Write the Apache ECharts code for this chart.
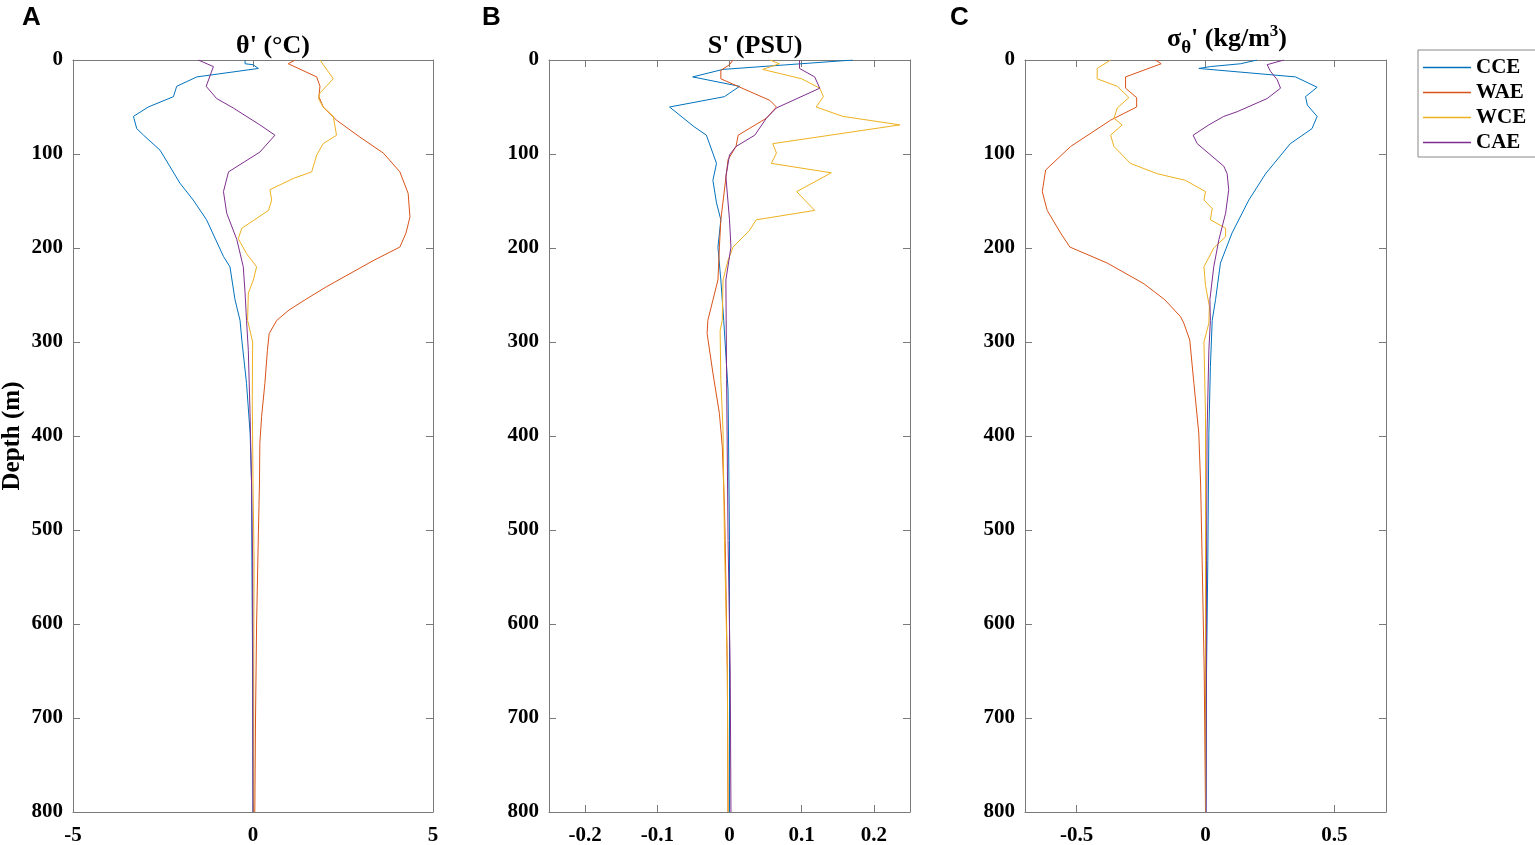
<!DOCTYPE html>
<html>
<head>
<meta charset="utf-8">
<script src="https://cdn.jsdelivr.net/npm/echarts@6/dist/echarts.min.js"></script>
<style>
html,body{margin:0;padding:0;background:#fff;}
#chart{width:1535px;height:845px;}
</style>
</head>
<body>
<div id="chart"></div>
<script>
// ---- Data: [depth (m), anomaly] pairs ----
const seriesNames = ['CCE', 'WAE', 'WCE', 'CAE'];
const seriesColors = ['#0072BD', '#D95319', '#EDB120', '#7E2F8E'];

// Panel A: potential temperature anomaly θ' (°C)
const thetaCCE = [[0,-0.22],[4,-0.22],[5,0.0],[9,0.15],[18,-1.56],[28,-2.12],[39,-2.21],[50,-2.91],[60,-3.32],[73,-3.23],[80,-3.04],[96,-2.58],[131,-2.03],[149,-1.66],[170,-1.29],[209,-0.82],[220,-0.64],[255,-0.5],[277,-0.36],[298,-0.31],[344,-0.18],[397,-0.08],[450,-0.04],[532,-0.03],[650,-0.01],[800,0.0]];
const thetaWAE = [[0,1.17],[4,0.98],[18,1.77],[28,1.86],[39,1.83],[50,1.95],[64,2.32],[82,2.97],[99,3.62],[119,4.08],[142,4.31],[167,4.36],[184,4.25],[199,4.08],[213,3.36],[241,2.05],[255,1.45],[266,1.0],[277,0.66],[291,0.45],[309,0.40],[344,0.33],[379,0.24],[408,0.19],[450,0.18],[503,0.15],[600,0.10],[700,0.07],[800,0.05]];
const thetaWCE = [[0,1.86],[20,2.23],[35,1.86],[41,1.82],[50,1.95],[60,2.23],[80,2.32],[89,1.95],[101,1.77],[119,1.63],[126,1.12],[138,0.47],[149,0.52],[160,0.43],[179,-0.31],[190,-0.41],[206,-0.18],[220,0.10],[234,0.01],[248,-0.13],[277,-0.15],[300,-0.01],[362,-0.02],[450,0.0],[532,0.03],[650,0.02],[800,0.02]];
const thetaCAE = [[0,-1.52],[7,-1.10],[28,-1.30],[41,-1.01],[51,-0.55],[69,0.19],[80,0.61],[98,0.19],[119,-0.68],[140,-0.82],[163,-0.73],[191,-0.45],[220,-0.27],[248,-0.22],[277,-0.18],[309,-0.13],[379,-0.08],[450,-0.04],[532,-0.01],[800,0.0]];

// Panel B: salinity anomaly S' (PSU)
const salCCE = [[0,0.171],[10,-0.009],[18,-0.051],[28,0.014],[39,-0.007],[50,-0.083],[71,-0.049],[80,-0.032],[110,-0.018],[128,-0.023],[152,-0.018],[170,-0.012],[199,-0.016],[234,-0.012],[277,-0.008],[351,-0.002],[511,0.0],[800,0.0]];
const salWAE = [[0,0.005],[5,0.0],[11,-0.012],[20,-0.012],[43,0.056],[50,0.065],[62,0.051],[80,0.012],[92,0.009],[106,-0.002],[170,-0.012],[199,-0.014],[234,-0.016],[277,-0.030],[291,-0.031],[333,-0.023],[376,-0.014],[411,-0.010],[475,-0.007],[511,-0.006],[650,-0.003],[800,-0.002]];
const salWCE = [[0,0.056],[4,0.069],[10,0.046],[20,0.10],[30,0.125],[39,0.130],[50,0.120],[60,0.157],[69,0.236],[89,0.060],[99,0.065],[110,0.058],[120,0.141],[140,0.093],[160,0.118],[170,0.037],[181,0.028],[199,0.005],[213,-0.002],[234,-0.009],[277,-0.010],[288,-0.013],[340,-0.012],[394,-0.009],[511,-0.007],[650,-0.003],[800,-0.002]];
const salCAE = [[0,0.097],[9,0.097],[18,0.118],[30,0.125],[51,0.065],[62,0.051],[80,0.035],[92,0.009],[101,0.0],[124,-0.005],[170,0.0],[199,0.002],[234,-0.005],[340,-0.004],[511,-0.002],[650,0.001],[800,0.002]];

// Panel C: potential density anomaly σθ' (kg/m3)
const sigCCE = [[0,0.200],[4,0.136],[7,0.019],[9,-0.026],[18,0.349],[29,0.433],[39,0.388],[48,0.395],[60,0.433],[73,0.413],[89,0.329],[121,0.233],[149,0.168],[184,0.103],[216,0.058],[255,0.039],[277,0.026],[326,0.019],[397,0.013],[532,0.009],[650,0.004],[800,0.002]];
const sigWAE = [[0,-0.194],[4,-0.172],[18,-0.310],[30,-0.310],[40,-0.267],[50,-0.267],[64,-0.368],[92,-0.523],[117,-0.620],[140,-0.633],[160,-0.614],[184,-0.562],[199,-0.526],[216,-0.381],[238,-0.239],[255,-0.158],[273,-0.097],[280,-0.084],[298,-0.061],[344,-0.045],[397,-0.026],[450,-0.019],[532,-0.013],[650,-0.005],[800,0.0]];
const sigWCE = [[0,-0.368],[9,-0.42],[20,-0.42],[28,-0.342],[40,-0.297],[51,-0.342],[62,-0.355],[69,-0.323],[80,-0.368],[92,-0.355],[110,-0.291],[121,-0.187],[128,-0.078],[140,0.0],[149,-0.006],[158,0.026],[170,0.019],[179,0.078],[188,0.078],[200,0.032],[220,-0.006],[240,0.0],[262,0.015],[280,0.013],[300,-0.006],[379,0.0],[800,0.0]];
const sigCAE = [[0,0.304],[5,0.239],[12,0.252],[21,0.278],[30,0.291],[41,0.239],[55,0.123],[60,0.071],[69,0.013],[80,-0.048],[89,-0.032],[113,0.071],[121,0.084],[138,0.090],[163,0.078],[191,0.052],[220,0.032],[255,0.017],[277,0.019],[309,0.013],[397,0.006],[532,0.004],[800,0.002]];

// Axis tick labels
const depthMin = 0, depthMax = 800, depthStep = 100;
const ticksA = [-5, 0, 5];
const ticksB = [-0.2, -0.1, 0, 0.1, 0.2];
const ticksC = [-0.5, 0, 0.5];

// ---- Chart ----
const panels = [
  { data: [thetaCCE, thetaWAE, thetaWCE, thetaCAE], min: -5, max: 5, ticks: ticksA, left: 73, width: 360 },
  { data: [salCCE, salWAE, salWCE, salCAE], min: -0.25, max: 0.25, ticks: ticksB, left: 549, width: 361 },
  { data: [sigCCE, sigWAE, sigWCE, sigCAE], min: -0.7, max: 0.7, ticks: ticksC, left: 1025, width: 361 }
];

const serif = "'Liberation Serif', 'Times New Roman', serif";
const axisColor = '#7a7a7a';
const labelFont = { color: '#000', fontFamily: serif, fontWeight: 'bold', fontSize: 21 };

const grid = [], xAxis = [], yAxis = [], series = [];
panels.forEach((p, i) => {
  grid.push({ left: p.left, top: 60, width: p.width, height: 752, containLabel: false, outerBoundsMode: 'none' });
  const common = { type: 'value', gridIndex: i, min: p.min, max: p.max,
    axisLine: { show: true, onZero: false, lineStyle: { color: axisColor, width: 1 } },
    splitLine: { show: false } };
  xAxis.push(Object.assign({}, common, {
    position: 'bottom',
    axisTick: { show: true, inside: true, length: 7, lineStyle: { color: axisColor }, customValues: p.ticks },
    axisLabel: Object.assign({ margin: 13, customValues: p.ticks, formatter: v => String(v) }, labelFont)
  }));
  xAxis.push(Object.assign({}, common, {
    position: 'top',
    axisTick: { show: true, inside: true, length: 7, lineStyle: { color: axisColor }, customValues: p.ticks },
    axisLabel: { show: false }
  }));
  const ycommon = { type: 'value', gridIndex: i, min: depthMin, max: depthMax, interval: depthStep, inverse: true,
    axisLine: { show: true, onZero: false, lineStyle: { color: axisColor, width: 1 } },
    axisTick: { show: true, inside: true, length: 7, lineStyle: { color: axisColor } },
    splitLine: { show: false } };
  yAxis.push(Object.assign({}, ycommon, {
    position: 'left',
    axisLabel: Object.assign({ margin: 10 }, labelFont),
    name: i === 0 ? 'Depth (m)' : '',
    nameLocation: 'middle', nameGap: 48, nameRotate: 90,
    nameTextStyle: { color: '#000', fontFamily: serif, fontWeight: 'bold', fontSize: 25 }
  }));
  yAxis.push(Object.assign({}, ycommon, { position: 'right', axisLabel: { show: false } }));
  p.data.forEach((arr, k) => {
    series.push({
      name: seriesNames[k], type: 'line', xAxisIndex: 2 * i, yAxisIndex: 2 * i,
      data: arr.map(d => [d[1], d[0]]),
      symbol: 'none', showSymbol: false, smooth: false,
      lineStyle: { color: seriesColors[k], width: 1 }, itemStyle: { color: seriesColors[k] },
      silent: true, animation: false
    });
  });
});

const titleFont = { color: '#000', fontFamily: serif, fontWeight: 'bold', fontSize: 26 };
const option = {
  backgroundColor: '#fff',
  animation: false,
  grid, xAxis, yAxis, series,
  title: [
    { text: "θ' (°C)", left: 268, top: 28, textAlign: 'center', textStyle: titleFont },
    { text: "S' (PSU)", left: 750, top: 28, textAlign: 'center', textStyle: titleFont },
    { text: "{a|σ}{s|θ}{a|' (kg/m}{p|3}{a|)}", left: 1222, top: 16, textAlign: 'center',
      textStyle: Object.assign({}, titleFont, {
        rich: {
          a: { fontFamily: serif, fontWeight: 'bold', fontSize: 26, color: '#000' },
          s: { fontFamily: serif, fontWeight: 'bold', fontSize: 19, color: '#000', padding: [18, 0, 0, 0] },
          p: { fontFamily: serif, fontWeight: 'bold', fontSize: 17, color: '#000', padding: [0, 0, 16, 0] }
        }
      }) }
  ],
  legend: {
    orient: 'vertical', left: 1418, top: 50,
    data: seriesNames,
    icon: 'rect',
    itemWidth: 48, itemHeight: 1.6, itemGap: 4,
    padding: [7, 10, 4, 5],
    borderColor: '#888', borderWidth: 1, backgroundColor: '#fff',
    textStyle: { color: '#000', fontFamily: serif, fontWeight: 'bold', fontSize: 21, lineHeight: 18 },
    selectedMode: false
  },
  graphic: [
    { type: 'text', left: 22, top: 5, style: { text: 'A', font: "bold 26px 'Liberation Sans', Arial, sans-serif", fill: '#000' } },
    { type: 'text', left: 482, top: 5, style: { text: 'B', font: "bold 26px 'Liberation Sans', Arial, sans-serif", fill: '#000' } },
    { type: 'text', left: 950, top: 5, style: { text: 'C', font: "bold 26px 'Liberation Sans', Arial, sans-serif", fill: '#000' } }
  ]
};

const chart = echarts.init(document.getElementById('chart'), null, { renderer: 'canvas' });
chart.setOption(option);
</script>
</body>
</html>
